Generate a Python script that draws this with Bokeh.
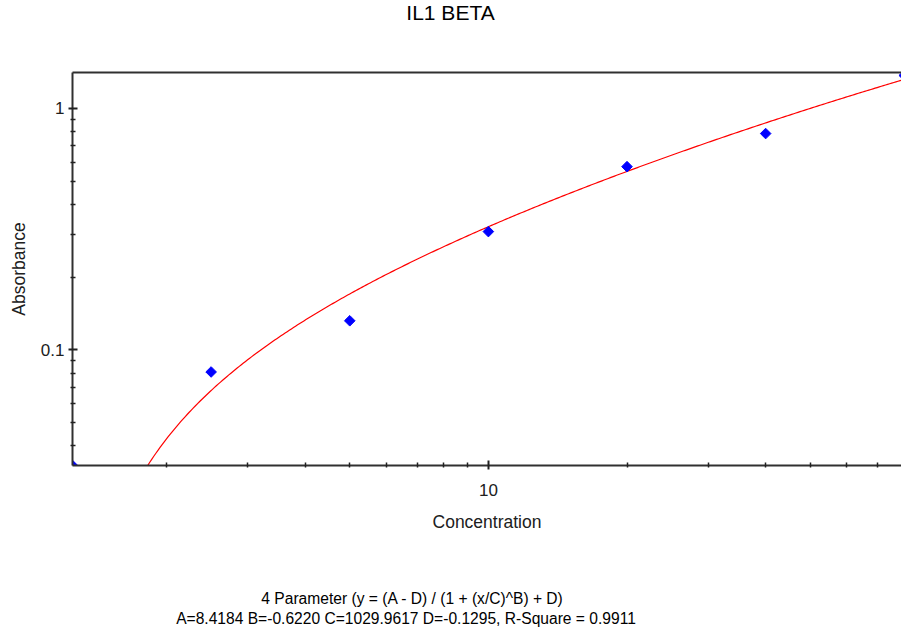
import numpy as np
from bokeh.plotting import figure
from bokeh.layouts import column
from bokeh.models import Range1d, LogAxis, FixedTicker, LogTickFormatter
from bokeh.core.properties import value
from bokeh.embed import file_html
from bokeh.resources import INLINE

# Data
concentration = [1.25, 2.5, 5, 10, 20, 40, 80]
absorbance = [0.0332, 0.081, 0.132, 0.309, 0.574, 0.787, 1.37]

# 4-parameter fit shown in the caption
A = 8.4184
B = -0.6220
C = 1029.9617
D = -0.1295
R2 = 0.9911

# tick values
x_major_ticks = [10]
x_minor_ticks = [2, 3, 4, 5, 6, 7, 8, 9, 20, 30, 40, 50, 60, 70]
y_major_ticks = [0.1, 1]
y_minor_ticks = [0.04, 0.05, 0.06, 0.07, 0.08, 0.09, 0.2, 0.3, 0.4, 0.5, 0.6, 0.7, 0.8, 0.9]

title_text = "IL1 BETA"
x_label = "Concentration"
y_label = "Absorbance"
caption1 = "4 Parameter (y = (A - D) / (1 + (x/C)^B) + D)"
caption2 = "A=8.4184  B=-0.6220  C=1029.9617  D=-0.1295, R-Square = 0.9911"

FONT = "Liberation Sans"
W = 901
LEFT = 72


def text_strip(height):
    # frames of a column are aligned with the main plot's frame (LEFT..W)
    f = figure(width=W, height=height, x_range=Range1d(LEFT, W), y_range=Range1d(0, height),
               x_axis_type=None, y_axis_type=None, output_backend="svg",
               toolbar_location=None, min_border=0, min_border_left=LEFT)
    f.outline_line_color = None
    f.xgrid.visible = False
    f.ygrid.visible = False
    f.background_fill_color = "white"
    f.border_fill_color = "white"
    return f


# title strip (top 28 px)
ft = text_strip(28)
ft.text(x=[450], y=[16], text=[title_text], text_align="center", text_baseline="middle",
        text_font=value(FONT), text_font_size="21px", text_color="black")

# main plot
p = figure(width=W, height=532, x_axis_type="log", y_axis_type="log",
           x_range=Range1d(1.25, 78.9), y_range=Range1d(0.0332, 1.409),
           output_backend="svg", toolbar_location=None,
           min_border_left=LEFT, min_border_right=0, min_border_top=44,
           min_border_bottom=95)
p.background_fill_color = "white"
p.border_fill_color = "white"
p.outline_line_color = None
p.xgrid.visible = False
p.ygrid.visible = False
p.title.visible = False

# fitted curve from the caption's parameters
xs = np.logspace(np.log10(1.25), np.log10(80), 400)
ys = (A - D) / (1 + (xs / C) ** B) + D
mask = ys > 0.02
p.line(xs[mask], ys[mask], line_color="#ff0000", line_width=1.2)

p.scatter(concentration, absorbance, marker="square", angle=np.pi / 4, size=7.5,
          fill_color="#0000ff", line_color="#0000ff")

for ax in (p.xaxis[0], p.yaxis[0]):
    ax.axis_line_width = 2
    ax.axis_line_color = "#303030"
    ax.major_tick_line_color = "#202020"
    ax.minor_tick_line_color = "#202020"
    ax.major_tick_line_width = 2
    ax.minor_tick_line_width = 1.5
    ax.major_tick_in = 5
    ax.major_tick_out = 4
    ax.minor_tick_in = 3
    ax.minor_tick_out = 2
    ax.major_label_text_font = FONT
    ax.major_label_text_font_size = "17px"
    ax.major_label_text_color = "#202020"
    ax.axis_label_text_font = FONT
    ax.axis_label_text_font_size = "17.5px"
    ax.axis_label_text_font_style = "normal"
    ax.axis_label_text_color = "#202020"
    ax.formatter = LogTickFormatter(min_exponent=3)

p.xaxis[0].ticker = FixedTicker(ticks=x_major_ticks, minor_ticks=x_minor_ticks)
p.yaxis[0].ticker = FixedTicker(ticks=y_major_ticks, minor_ticks=y_minor_ticks)
p.xaxis[0].axis_label = x_label
p.yaxis[0].axis_label = y_label
p.xaxis[0].major_label_standoff = 14
p.xaxis[0].axis_label_standoff = 13
p.yaxis[0].major_label_standoff = 4
p.yaxis[0].axis_label_standoff = 9

top = LogAxis(ticker=FixedTicker(ticks=[]), axis_line_width=2, axis_line_color="#303030",
              major_label_text_font_size="0px", major_tick_in=0, major_tick_out=0,
              minor_tick_in=0, minor_tick_out=0)
p.add_layout(top, "above")

# caption strip (bottom 78 px)
fc = text_strip(78)
fc.text(x=[412, 412], y=[40, 20], text=[caption1, caption2], text_align="center",
        text_baseline="middle", text_font=value(FONT), text_font_size="15.6px",
        text_color="black")

layout = column(ft, p, fc, spacing=0)
open("out.html", "w").write(file_html(layout, INLINE))
